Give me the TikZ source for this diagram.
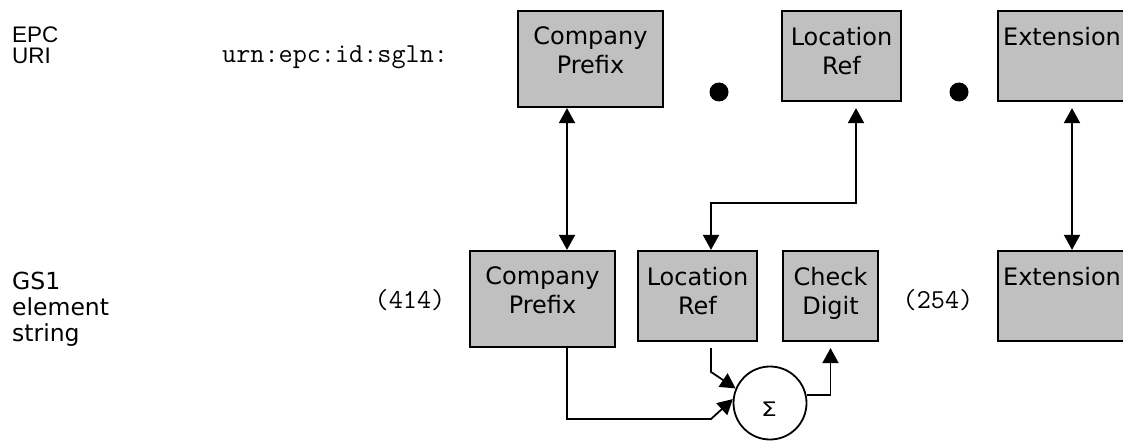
\documentclass[tikz,border=0pt]{standalone}
\usepackage{fontspec}
\setmainfont{DejaVu Sans}
\newfontfamily\arialface{Liberation Sans}
\usetikzlibrary{arrows.meta,calc}
\definecolor{boxfill}{RGB}{192,192,192}
\tikzset{
  field/.style={draw, line width=2.2pt, fill=boxfill, inner sep=0pt},
  fieldtext/.style={anchor=north, inner sep=0pt, align=center, font=\fontsize{24}{29}\selectfont},
  conn/.style={line width=1.8pt, -{Triangle[length=15pt,width=16pt]}},
  dbl/.style={line width=1.8pt, {Triangle[length=15pt,width=16pt]}-{Triangle[length=15pt,width=16pt]}},
  sepdot/.style={circle, fill=black, minimum size=19pt, inner sep=0pt},
  rowlabel/.style={anchor=north west, inner sep=0pt, align=left},
  codetext/.style={inner sep=0pt, font=\ttfamily\fontsize{27.4}{27.4}\selectfont}
}
\begin{document}
\begin{tikzpicture}[x=1pt, y=-1pt]
  \useasboundingbox (0,0) rectangle (1123,441);
  \clip (0,0) rectangle (1123,441);

  % row labels
  \node[rowlabel, font=\arialface\fontsize{22.5}{21}\selectfont] (epc) at (12,27) {EPC\\URI};
  \node[rowlabel, font=\fontsize{23.5}{26}\selectfont] (gs1) at (12,272) {GS1\\element\\string};

  % URI row
  \node[codetext, anchor=base west] (urn) at (222,63) {urn:epc:id:sgln:};
  \node[field, minimum width=145pt, minimum height=96pt] (tcp) at (590.5,59) {};
  \node[fieldtext] (tcpt) at ([yshift=-17pt]tcp.north) {Company\\Prefix};
  \node[sepdot] (dotA) at (719,92) {};
  \node[field, minimum width=119pt, minimum height=90pt] (tloc) at (841.5,56) {};
  \node[fieldtext] (tloct) at ([yshift=-17pt]tloc.north) {Location\\Ref};
  \node[sepdot] (dotB) at (959,92) {};
  \node[field, minimum width=128pt, minimum height=90pt] (tx) at (1062,56) {};
  \node[fieldtext] (txt) at ([yshift=-17pt]tx.north) {Extension};

  % element string row
  \node[codetext, anchor=base] (ai414) at (410,308) {(414)};
  \node[field, minimum width=145pt, minimum height=96pt] (bcp) at (542.5,299) {};
  \node[fieldtext] (bcpt) at ([yshift=-17pt]bcp.north) {Company\\Prefix};
  \node[field, minimum width=119pt, minimum height=90pt] (bloc) at (697.5,296) {};
  \node[fieldtext] (bloct) at ([yshift=-17pt]bloc.north) {Location\\Ref};
  \node[field, minimum width=95pt, minimum height=90pt] (bchk) at (830.5,296) {};
  \node[fieldtext] (bchkt) at ([yshift=-17pt]bchk.north) {Check\\Digit};
  \node[codetext, anchor=base] (ai254) at (938,308) {(254)};
  \node[field, minimum width=128pt, minimum height=90pt] (bx) at (1062,296) {};
  \node[fieldtext] (bxt) at ([yshift=-17pt]bx.north) {Extension};

  % check digit sum
  \node[draw, circle, line width=1.8pt, minimum size=73pt, inner sep=0pt] (sum) at (770,403) {};
  \node[inner sep=0pt, font=\fontsize{20}{20}\selectfont, xscale=1.25, transform shape] (sigma) at (769,409) {Σ};

  % routing points
  \coordinate (xa) at (567,0);
  \coordinate (bendA) at (711,203);
  \coordinate (xb) at (856,0);
  \coordinate (xc) at (1072,0);
  \coordinate (tlocfoot) at ([yshift=-6pt]tloc.south);
  \coordinate (txfoot) at ([yshift=-6pt]tx.south);
  \coordinate (blocfoot) at ([yshift=-6pt]bloc.south);
  \coordinate (bchkfoot) at ([yshift=-6pt]bchk.south);
  \coordinate (cpcorner) at (711,419);
  \coordinate (lockink) at (711,372);

  % URI <-> element string
  \draw[dbl] (tcp.south -| xa) -- (bcp.north -| xa);
  \draw[dbl] (bloc.north -| bendA) -- (bendA) -| (tlocfoot -| xb);
  \draw[dbl] (txfoot -| xc) -- (bx.north -| xc);

  % check digit calculation
  \draw[conn] (bcp.south -| xa) -- (xa |- cpcorner) -- (cpcorner) -- (sum.174);
  \draw[conn] (blocfoot -| lockink) -- (lockink) -- (sum.157);
  \draw[conn] (sum.12) -| (bchkfoot);
\end{tikzpicture}
\end{document}
